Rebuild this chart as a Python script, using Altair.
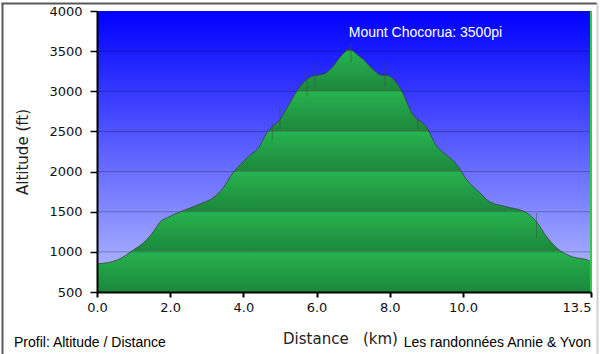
import altair as alt
import pandas as pd

# ---- data ----
dist_km = [0.0, 0.56, 1.0, 1.27, 1.54, 1.73, 1.92, 2.09, 2.28, 2.63, 2.90, 3.18, 3.45, 3.72,
           3.97, 4.27, 4.38, 4.65, 5.00, 5.28, 5.55, 5.82, 6.01, 6.18, 6.45, 6.64, 6.91,
           7.10, 7.27, 7.54, 7.79, 7.92, 8.27, 8.63, 9.01, 9.29, 9.37, 9.83, 10.10, 10.46,
           10.73, 11.19, 11.74, 12.01, 12.29, 12.56, 13.00, 13.40, 13.5]
alt_ft = [850, 900, 1025, 1112, 1250, 1375, 1425, 1462, 1500, 1562, 1612, 1675, 1800, 1987,
          2112, 2237, 2275, 2487, 2650, 2862, 3062, 3175, 3200, 3212, 3312, 3425, 3525,
          3462, 3400, 3275, 3200, 3200, 3050, 2712, 2550, 2312, 2275, 2087, 1900, 1737,
          1625, 1562, 1487, 1375, 1187, 1050, 937, 900, 875]

spike_km = [4.79, 5.00, 5.74, 5.96, 6.94, 7.87, 8.77, 12.01]
spike_top = [2612, 2812, 3250, 3362, 3612, 3362, 2687, 1487]
spike_bot = [2400, 2525, 2937, 3050, 3362, 3062, 2525, 1175]

x_ticks = [0, 2, 4, 6, 8, 10, 13.5]
y_ticks = [500, 1000, 1500, 2000, 2500, 3000, 3500, 4000]
band_lo = [500, 1000, 1500, 2000, 2500, 3000, 3500]
band_hi = [1000, 1500, 2000, 2500, 3000, 3500, 4000]

peak_km = [6.88]
peak_ft = [3675]
peak_label = ["Mount Chocorua: 3500pi"]

W, H = 494, 281

prof = pd.DataFrame({"km": dist_km, "ft": alt_ft})
bands = pd.DataFrame({"lo": band_lo, "hi": band_hi})
spikes = pd.DataFrame({"km": spike_km, "t": spike_top, "b": spike_bot})
grid = pd.DataFrame({"g": y_ticks[1:-1]})
peak = pd.DataFrame({"km": peak_km, "ft": peak_ft, "label": peak_label})

xs = alt.Scale(domain=[0, 13.5], nice=False, zero=False)
ys = alt.Scale(domain=[500, 4000], nice=False, zero=False)

x_axis = alt.Axis(values=x_ticks, format=".1f", title="Distance\u00a0\u00a0\u00a0(km)",
                  grid=False, domainColor="#000", domainWidth=2, tickColor="#000",
                  tickWidth=2, tickSize=5, labelFont="DejaVu Sans", labelFontSize=13,
                  labelColor="#111", labelPadding=4, titleFont="DejaVu Sans",
                  titleFontSize=15, titleFontWeight="normal", titleColor="#222",
                  titleX=243, titleY=51, titleBaseline="alphabetic", zindex=2,
                  labelFlush=False,
                  labelAlign=alt.expr("datum.value >= 13.5 ? 'right' : 'center'"))
y_axis = alt.Axis(values=y_ticks, format="d", title="Altitude (ft)", grid=False,
                  domainColor="#000", domainWidth=2, tickColor="#000", tickWidth=1.5,
                  tickSize=7, labelFont="DejaVu Sans", labelFontSize=13, labelColor="#111",
                  labelPadding=8, titleFont="DejaVu Sans", titleFontSize=15,
                  titleFontWeight="normal", titleColor="#222", titleX=-70, titleY=140.5,
                  titleAngle=-90, titleBaseline="alphabetic", titleAlign="center",
                  zindex=2, labelFlush=False)

green_grad = alt.LinearGradient(gradient="linear", x1=0, x2=0, y1=0, y2=1,
                                stops=[alt.GradientStop(color="#26b34f", offset=0),
                                       alt.GradientStop(color="#1b873b", offset=1)])
blue_grad = alt.LinearGradient(gradient="linear", x1=0, x2=0, y1=0, y2=1,
                               stops=[alt.GradientStop(color="#0000ff", offset=0),
                                      alt.GradientStop(color="#a6aeff", offset=1)])

band_rects = alt.Chart(bands).mark_rect(color=green_grad).encode(
    x=alt.datum(0, scale=xs, axis=x_axis, type="quantitative"),
    x2=alt.datum(13.5),
    y=alt.Y("hi:Q", scale=ys, axis=y_axis),
    y2="lo:Q")

sky = alt.Chart(prof).mark_area(color=blue_grad, interpolate="monotone").encode(
    x=alt.X("km:Q", scale=xs), y=alt.Y("ft:Q", scale=ys, stack=None), y2=alt.datum(4000))

outline = alt.Chart(prof).mark_line(color="#3a3a3a", strokeWidth=1, opacity=0.75,
                                    interpolate="monotone").encode(
    x=alt.X("km:Q", scale=xs), y=alt.Y("ft:Q", scale=ys))

spk = alt.Chart(spikes).mark_rule(color="#444", strokeWidth=1, opacity=0.5).encode(
    x=alt.X("km:Q", scale=xs), y=alt.Y("t:Q", scale=ys), y2="b:Q")

gridl = alt.Chart(grid).mark_rule(color="#000", strokeWidth=1, opacity=0.25).encode(
    y=alt.Y("g:Q", scale=ys))

right_edge = alt.Chart(pd.DataFrame({"a": [0]})).mark_rule(color="#2ecc40", strokeWidth=2).encode(
    x=alt.datum(13.5), y=alt.datum(4000), y2=alt.datum(500))

ann = alt.Chart(peak).mark_text(font="Liberation Sans", fontSize=14, color="white",
                                align="left", baseline="alphabetic").encode(
    x=alt.X("km:Q", scale=xs), y=alt.Y("ft:Q", scale=ys), text="label:N")

foot_l = alt.Chart(pd.DataFrame({"t": ["Profil: Altitude / Distance"]})).mark_text(
    font="Liberation Sans", fontSize=14, color="#000", align="left", baseline="alphabetic"
).encode(x=alt.value(-83), y=alt.value(336), text="t:N")
foot_r = alt.Chart(pd.DataFrame({"t": ["Les randonnées Annie & Yvon"]})).mark_text(
    font="Liberation Sans", fontSize=14, color="#000", align="right", baseline="alphabetic"
).encode(x=alt.value(494), y=alt.value(336), text="t:N")

frame_l = alt.Chart(pd.DataFrame({"a": [0]})).mark_rule(color="#5a5a5a", strokeWidth=2).encode(
    x=alt.value(-94.5), y=alt.value(-8), y2=alt.value(343))
frame_t = alt.Chart(pd.DataFrame({"a": [0]})).mark_rule(color="#5a5a5a", strokeWidth=2).encode(
    x=alt.value(-95.5), x2=alt.value(500), y=alt.value(-7.5))
frame_r = alt.Chart(pd.DataFrame({"a": [0]})).mark_rule(color="#d0d0d0", strokeWidth=2).encode(
    x=alt.value(500.5), y=alt.value(-8), y2=alt.value(343))

chart = alt.layer(band_rects, sky, outline, spk, gridl, right_edge, ann,
                  foot_l, foot_r, frame_l, frame_t, frame_r).properties(
    width=W, height=H,
    autosize=alt.AutoSizeParams(type="none"),
    padding={"left": 97, "top": 11, "right": 9, "bottom": 62},
    background="white",
).configure_view(stroke=None)

chart.save("out.html", embed_options={"renderer": "svg", "actions": False})
